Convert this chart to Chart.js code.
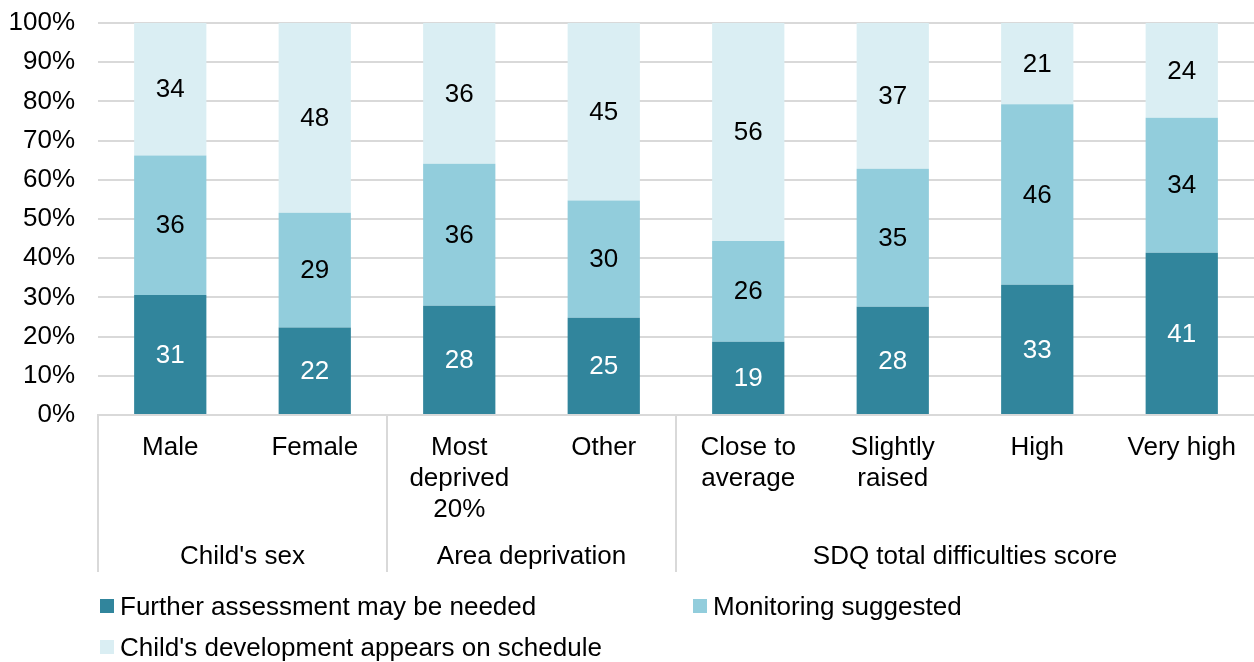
<!DOCTYPE html>
<html><head><meta charset="utf-8">
<script src="https://cdn.jsdelivr.net/npm/chart.js@4/dist/chart.umd.min.js"></script>
<style>
html,body{margin:0;padding:0;background:#fff;}
#wrap{position:relative;width:1254px;height:662px;overflow:hidden;}
canvas{position:absolute;left:0;top:0;}
.leg{position:absolute;font-family:"Liberation Sans",Arial,sans-serif;font-size:26px;color:#000;white-space:nowrap;line-height:28px;height:28px;}
.leg .sw{display:inline-block;width:14px;height:14px;margin-right:6px;vertical-align:middle;position:relative;top:-2px;}
</style>
</head><body>
<div id="wrap"><canvas id="c" width="1254" height="662"></canvas><div id="legend"></div></div>
<script>
const categories = [["Male"],["Female"],["Most","deprived","20%"],["Other"],["Close to","average"],["Slightly","raised"],["High"],["Very high"]];
const groups = ["Child's sex","Area deprivation","SDQ total difficulties score"];
const groupSizes = [2,2,4];
const seriesNames = ["Further assessment may be needed","Monitoring suggested","Child's development appears on schedule"];
const further    = [30.6,22.3,27.9,24.8,18.7,27.6,33.2,41.4];
const monitoring = [35.6,29.3,36.2,29.9,25.7,35.2,46.1,34.4];
const onSchedule = [33.8,48.4,35.9,45.3,55.6,37.2,20.7,24.2];
const yTicks = [0,10,20,30,40,50,60,70,80,90,100];
const colors = ['#31859C','#92CDDC','#DAEEF3'];
const labelColors = ['#FFFFFF','#000000','#000000'];

const FONT = '"Liberation Sans", Arial, sans-serif';
const FS = 26;
const GRID = '#D9D9D9';

const dataLabels = {
  id:'dataLabels',
  afterDatasetsDraw(chart){
    const ctx = chart.ctx;
    ctx.save();
    ctx.font = FS + 'px ' + FONT;
    ctx.textAlign = 'center';
    ctx.textBaseline = 'middle';
    chart.data.datasets.forEach((ds, di) => {
      const meta = chart.getDatasetMeta(di);
      meta.data.forEach((el, i) => {
        ctx.fillStyle = labelColors[di];
        ctx.fillText(String(Math.round(ds.data[i])), el.x, (el.y + el.base) / 2 + 1);
      });
    });
    ctx.restore();
  }
};

const groupAxis = {
  id:'groupAxis',
  afterDraw(chart){
    const ctx = chart.ctx;
    const xs = chart.scales.x;
    const n = categories.length;
    const w = (xs.right - xs.left) / n;
    const top = chart.chartArea.bottom;
    const lineBottom = top + 157;
    ctx.save();
    ctx.strokeStyle = GRID;
    ctx.lineWidth = 2;
    ctx.font = FS + 'px ' + FONT;
    ctx.fillStyle = '#000';
    ctx.textAlign = 'center';
    ctx.textBaseline = 'middle';
    let start = 0;
    groups.forEach((g, gi) => {
      const x0 = xs.left + start * w;
      const x1 = xs.left + (start + groupSizes[gi]) * w;
      ctx.beginPath();
      ctx.moveTo(Math.round(x0), top);
      ctx.lineTo(Math.round(x0), lineBottom);
      ctx.stroke();
      ctx.fillText(g, (x0 + x1) / 2, top + 142);
      start += groupSizes[gi];
    });
    ctx.restore();
  }
};

const datasets = [further, monitoring, onSchedule].map((d, i) => ({
  label: seriesNames[i],
  data: d,
  backgroundColor: colors[i],
  borderWidth: 0,
  categoryPercentage: 1.0,
  barPercentage: 0.5
}));

new Chart(document.getElementById('c'), {
  type:'bar',
  data:{ labels: categories, datasets },
  options:{
    responsive:false,
    animation:false,
    layout:{ padding:{ top:23, right:-4, bottom:90, left:0 } },
    plugins:{ legend:{ display:false }, tooltip:{ enabled:false } },
    scales:{
      x:{
        stacked:true,
        grid:{ display:false, drawTicks:false },
        border:{ display:true, color:GRID, width:2 },
        ticks:{ color:'#000', font:{ family:FONT, size:FS, lineHeight:1.19 }, padding:17, maxRotation:0, autoSkip:false },
        afterFit(scale){ scale.height = 157; }
      },
      y:{
        stacked:true,
        min:0, max:100,
        afterBuildTicks(scale){ scale.ticks = yTicks.map(v => ({ value:v })); },
        grid:{ color:GRID, lineWidth:2, drawTicks:false },
        border:{ display:false },
        ticks:{ color:'#000', font:{ family:FONT, size:FS }, padding:23, callback:v => v + '%' },
        afterFit(scale){ scale.width = 98; scale.paddingTop = 0; scale.paddingBottom = 0; }
      }
    }
  },
  plugins:[dataLabels, groupAxis]
});

const legendPos = [[100,592],[693,592],[100,633]];
const legend = document.getElementById('legend');
seriesNames.forEach((name, i) => {
  const d = document.createElement('div');
  d.className = 'leg';
  d.style.left = legendPos[i][0] + 'px';
  d.style.top = legendPos[i][1] + 'px';
  const sw = document.createElement('span');
  sw.className = 'sw';
  sw.style.background = colors[i];
  d.appendChild(sw);
  d.appendChild(document.createTextNode(name));
  legend.appendChild(d);
});
</script>
</body></html>
